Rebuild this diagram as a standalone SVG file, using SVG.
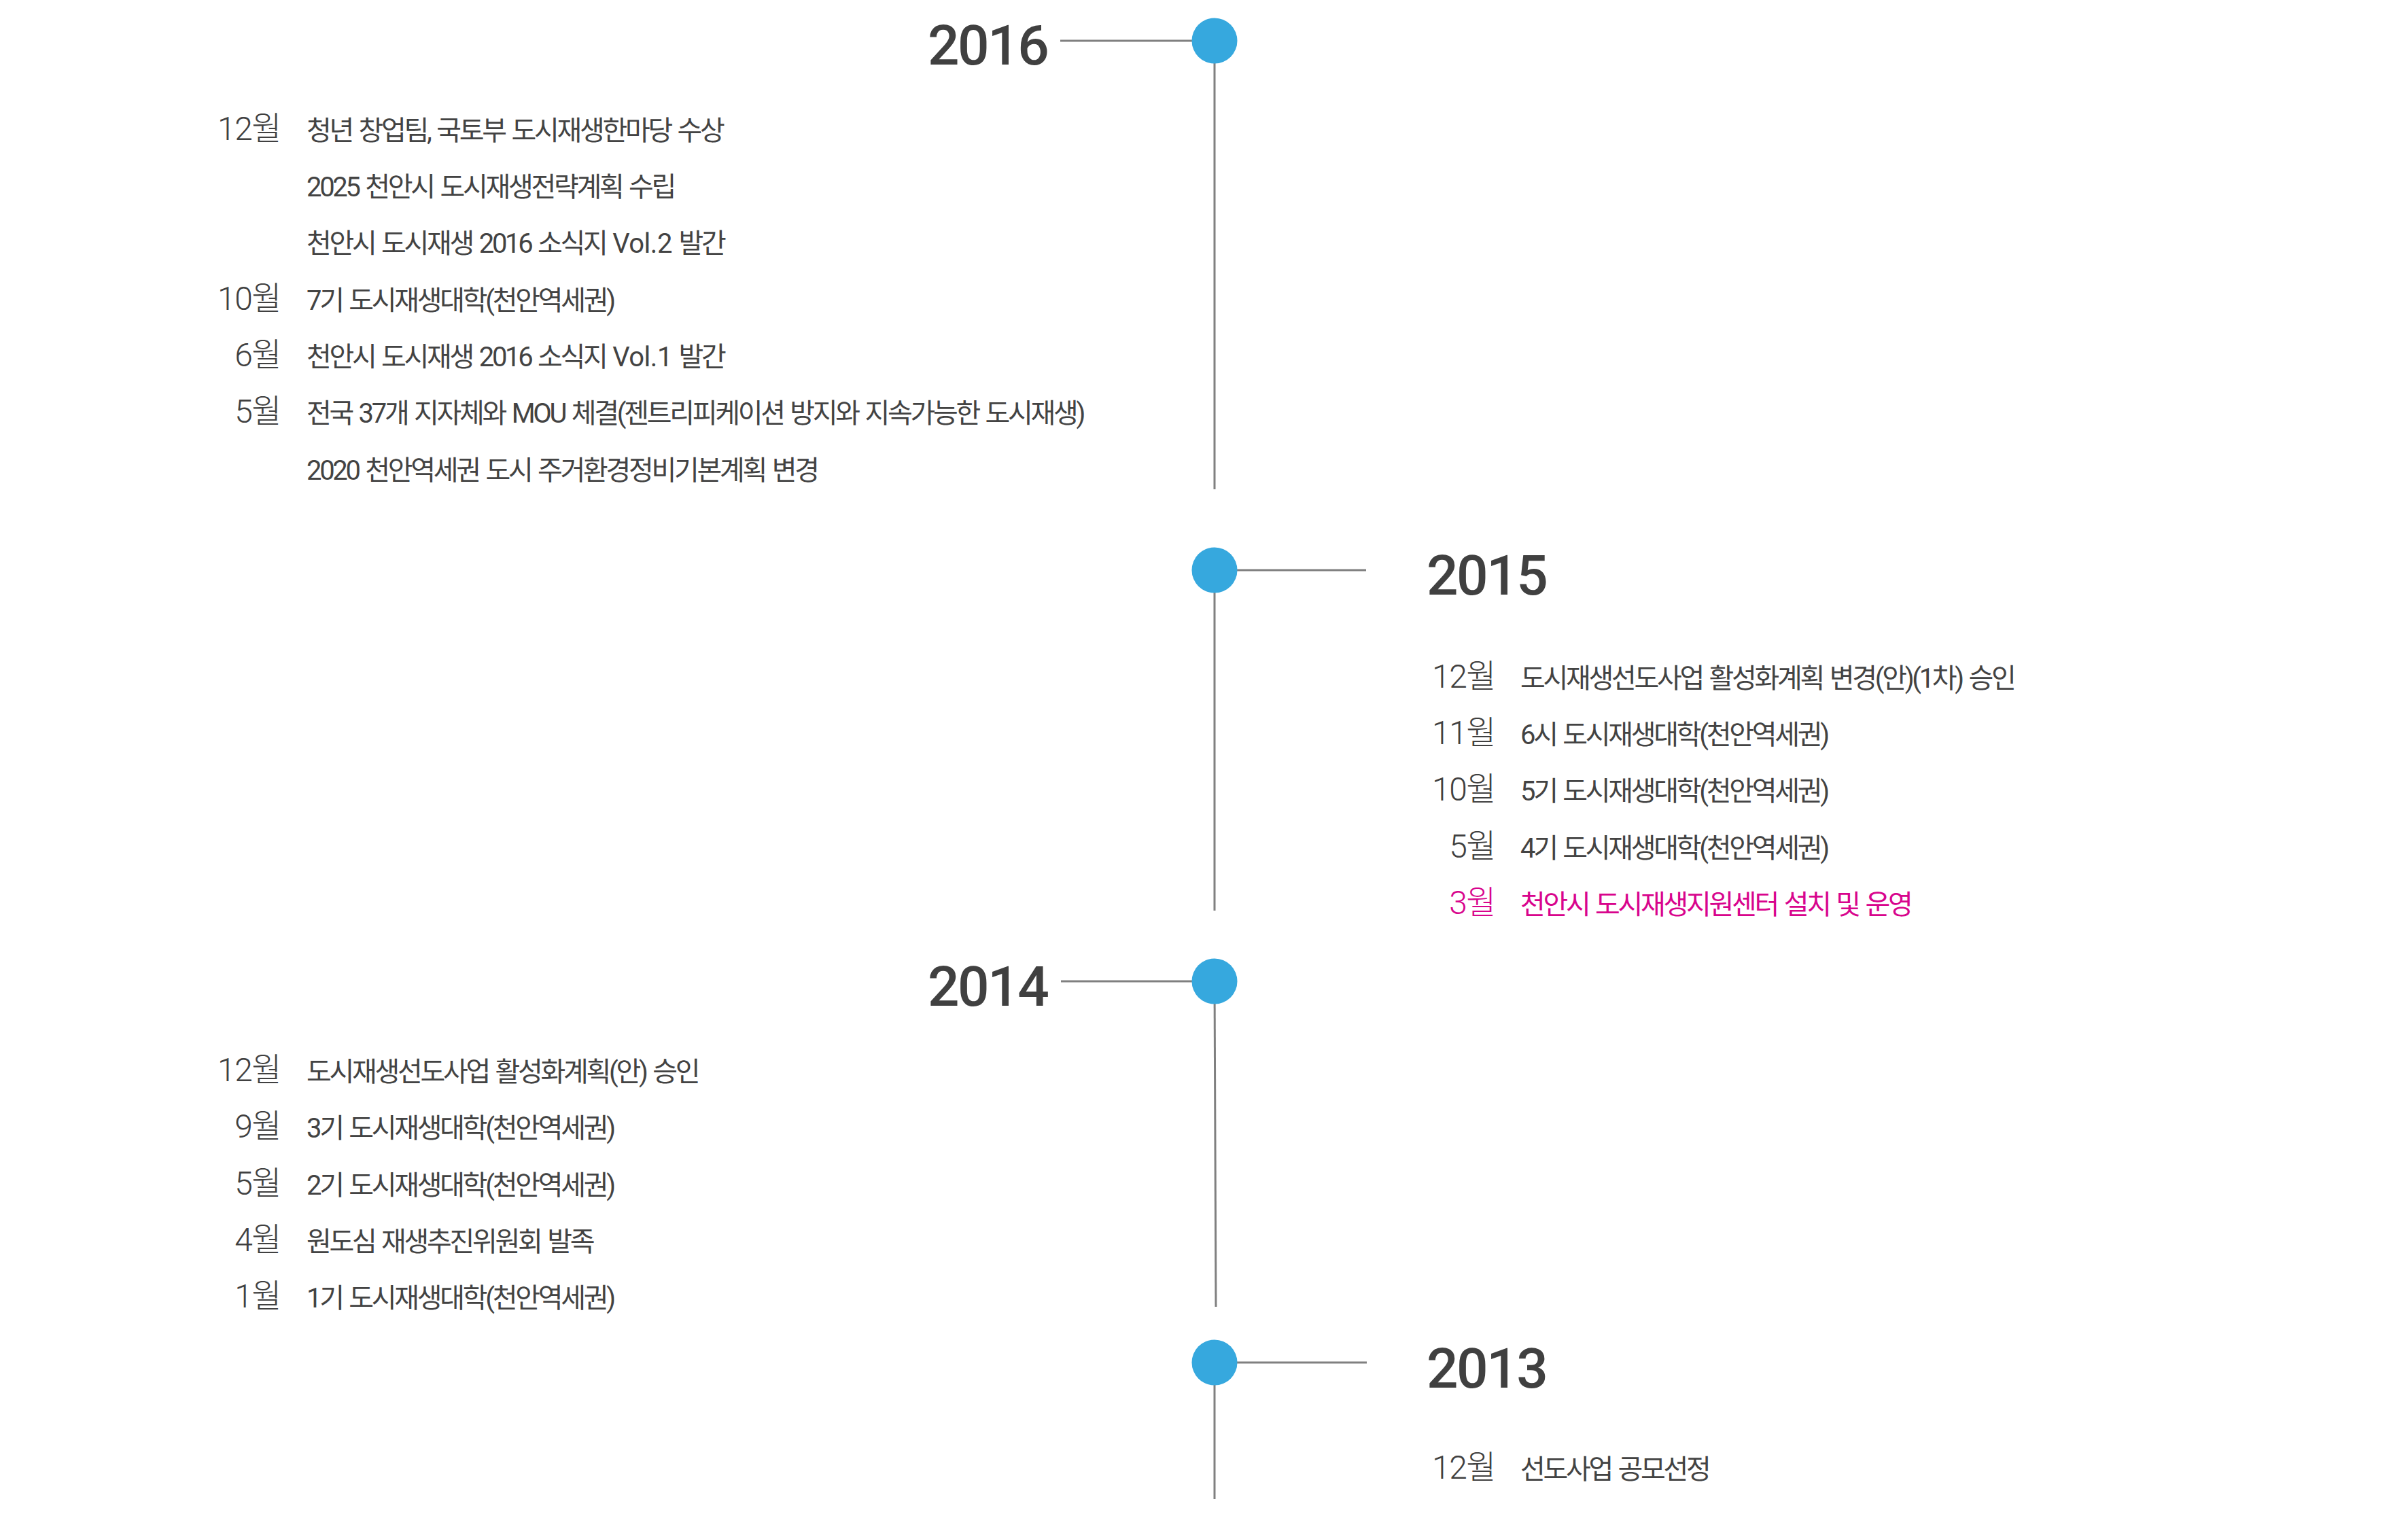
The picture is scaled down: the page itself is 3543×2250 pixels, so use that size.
<svg xmlns="http://www.w3.org/2000/svg" width="3543" height="2250" viewBox="0 0 3543 2250">
<style>
.bg{fill:#ffffff}
.ln{stroke:#808080;stroke-width:3;fill:none}
.dot{fill:#36a8de}
.yr{font-family:Roboto,"Noto Sans CJK KR",sans-serif;font-weight:500;font-size:82px;fill:#404040;letter-spacing:-2.5px}
.mo{font-family:Roboto,"Noto Sans CJK KR",sans-serif;font-weight:300;font-size:48px;fill:#404040;letter-spacing:-1.5px;text-anchor:end}
.ev{font-family:Roboto,"Noto Sans CJK KR",sans-serif;font-weight:400;font-size:40px;fill:#434343;letter-spacing:-3.3px;word-spacing:3px}
.lt{letter-spacing:-0.5px}
.pk{fill:#d8048d}
</style>
<rect class="bg" x="0" y="0" width="3543" height="2250"/>
<g id="connectors">
<line class="ln" x1="1560" y1="60" x2="1787" y2="60"/>
<line class="ln" x1="1787" y1="60" x2="1787" y2="720"/>
<line class="ln" x1="1787" y1="839" x2="2010" y2="839"/>
<line class="ln" x1="1787" y1="839" x2="1787" y2="1340"/>
<line class="ln" x1="1561" y1="1444" x2="1787" y2="1444"/>
<line class="ln" x1="1787" y1="1444" x2="1789" y2="1923"/>
<line class="ln" x1="1787" y1="2005" x2="2011" y2="2005"/>
<line class="ln" x1="1787" y1="2005" x2="1787" y2="2206"/>
</g>
<g id="y2016">
<circle class="dot" cx="1787" cy="60" r="33.5"/>
<text class="yr" x="1365" y="95">2016</text>
<text class="mo" x="413" y="205.7">12월</text>
<text class="ev" x="451" y="205.7">청년 창업팀, 국토부 도시재생한마당 수상</text>
<text class="ev" x="451" y="289">2025 천안시 도시재생전략계획 수립</text>
<text class="ev" x="451" y="372.3">천안시 도시재생 2016 소식지 <tspan class="lt">Vol.2</tspan> 발간</text>
<text class="mo" x="413" y="455.6">10월</text>
<text class="ev" x="451" y="455.6">7기 도시재생대학(천안역세권)</text>
<text class="mo" x="413" y="539">6월</text>
<text class="ev" x="451" y="539">천안시 도시재생 2016 소식지 <tspan class="lt">Vol.1</tspan> 발간</text>
<text class="mo" x="413" y="622.3">5월</text>
<text class="ev" x="451" y="622.3">전국 37개 지자체와 MOU 체결(젠트리피케이션 방지와 지속가능한 도시재생)</text>
<text class="ev" x="451" y="705.6">2020 천안역세권 도시 주거환경정비기본계획 변경</text>
</g>
<g id="y2015">
<circle class="dot" cx="1787" cy="839" r="33.5"/>
<text class="yr" x="2099" y="875">2015</text>
<text class="mo" x="2200" y="1011.7">12월</text>
<text class="ev" x="2237" y="1011.7">도시재생선도사업 활성화계획 변경(안)(1차) 승인</text>
<text class="mo" x="2200" y="1095">11월</text>
<text class="ev" x="2237" y="1095">6시 도시재생대학(천안역세권)</text>
<text class="mo" x="2200" y="1178.3">10월</text>
<text class="ev" x="2237" y="1178.3">5기 도시재생대학(천안역세권)</text>
<text class="mo" x="2200" y="1261.6">5월</text>
<text class="ev" x="2237" y="1261.6">4기 도시재생대학(천안역세권)</text>
<text class="mo pk" x="2200" y="1345">3월</text>
<text class="ev pk" x="2237" y="1345">천안시 도시재생지원센터 설치 및 운영</text>
</g>
<g id="y2014">
<circle class="dot" cx="1787" cy="1444" r="33.5"/>
<text class="yr" x="1365" y="1480">2014</text>
<text class="mo" x="413" y="1591">12월</text>
<text class="ev" x="451" y="1591">도시재생선도사업 활성화계획(안) 승인</text>
<text class="mo" x="413" y="1674.3">9월</text>
<text class="ev" x="451" y="1674.3">3기 도시재생대학(천안역세권)</text>
<text class="mo" x="413" y="1757.6">5월</text>
<text class="ev" x="451" y="1757.6">2기 도시재생대학(천안역세권)</text>
<text class="mo" x="413" y="1841">4월</text>
<text class="ev" x="451" y="1841">원도심 재생추진위원회 발족</text>
<text class="mo" x="413" y="1924.3">1월</text>
<text class="ev" x="451" y="1924.3">1기 도시재생대학(천안역세권)</text>
</g>
<g id="y2013">
<circle class="dot" cx="1787" cy="2005" r="33.5"/>
<text class="yr" x="2099" y="2041.7">2013</text>
<text class="mo" x="2200" y="2176">12월</text>
<text class="ev" x="2237" y="2176">선도사업 공모선정</text>
</g>
</svg>
